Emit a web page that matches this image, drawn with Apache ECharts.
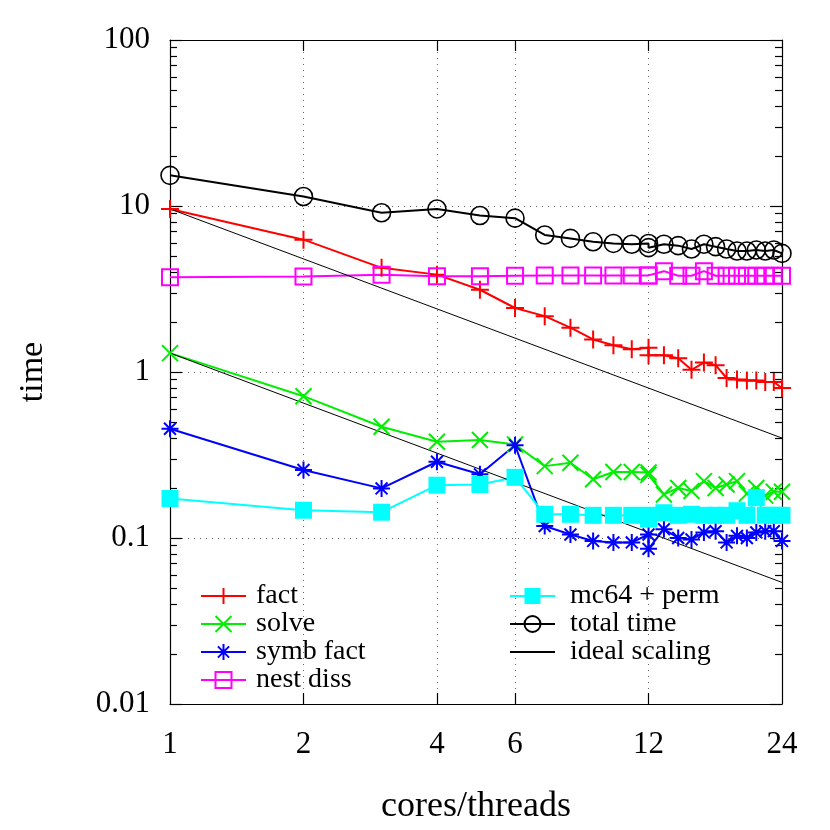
<!DOCTYPE html>
<html>
<head>
<meta charset="utf-8">
<script src="https://cdn.jsdelivr.net/npm/echarts@6/dist/echarts.min.js"></script>
<style>
  html, body { margin: 0; padding: 0; background: #fff; }
  #chart { width: 830px; height: 830px; }
</style>
</head>
<body>
<div id="chart"></div>
<script>
  // cores/threads (12 appears twice in the measurements)
  var threads = [1, 2, 3, 4, 5, 6, 7, 8, 9, 10, 11, 12, 12, 13, 14, 15, 16, 17, 18, 19, 20, 21, 22, 23, 24]

  var fact = [9.6, 6.27, 4.24, 3.86, 3.13, 2.43, 2.17, 1.85, 1.57, 1.45, 1.37, 1.40, 1.26, 1.26, 1.21, 1.03, 1.14, 1.10, 0.92, 0.90, 0.89, 0.89, 0.87, 0.87, 0.80]
  var solve = [1.30, 0.715, 0.468, 0.38, 0.389, 0.366, 0.271, 0.284, 0.226, 0.25, 0.25, 0.248, 0.24, 0.183, 0.2, 0.192, 0.22, 0.2, 0.21, 0.22, 0.185, 0.2, 0.18, 0.19, 0.19]
  var symbFact = [0.455, 0.257, 0.199, 0.288, 0.242, 0.362, 0.118, 0.105, 0.096, 0.094, 0.094, 0.105, 0.086, 0.113, 0.10, 0.098, 0.108, 0.110, 0.094, 0.103, 0.10, 0.108, 0.11, 0.11, 0.096]
  var nestDiss = [3.72, 3.76, 3.85, 3.78, 3.78, 3.8, 3.82, 3.82, 3.82, 3.82, 3.82, 3.82, 3.82, 4.05, 3.8, 3.8, 4.05, 3.8, 3.8, 3.8, 3.8, 3.8, 3.8, 3.8, 3.8]
  var mc64 = [0.173, 0.147, 0.143, 0.208, 0.21, 0.232, 0.139, 0.139, 0.137, 0.137, 0.137, 0.137, 0.13, 0.142, 0.137, 0.139, 0.137, 0.137, 0.137, 0.146, 0.137, 0.175, 0.137, 0.137, 0.137]
  var totalTime = [15.3, 11.4, 9.1, 9.6, 8.77, 8.45, 6.69, 6.38, 6.09, 5.95, 5.88, 5.95, 5.61, 5.88, 5.77, 5.51, 5.88, 5.69, 5.51, 5.36, 5.36, 5.43, 5.36, 5.43, 5.18]

  // ideal scaling lines (end points)
  var idealX = [1, 24]
  var idealFact = [9.6, 0.40]
  var idealSolve = [1.30, 0.054]

  // axis ticks
  var xLabels = [1, 2, 4, 6, 12, 24]
  var xGridTicks = [2, 4, 6, 12]
  var yMinorTicks = []
  ;[0.01, 0.1, 1, 10].forEach(function (d) {
    for (var k = 2; k <= 9; k++) yMinorTicks.push(+(d * k).toPrecision(3))
  })

  var FONT = '"Liberation Serif", "DejaVu Serif", serif'

  var SYM_PLUS = 'path://M0,5L10,5M5,0L5,10'
  var SYM_CROSS = 'path://M0,0L10,10M0,10L10,0'
  var SYM_STAR = 'path://M0,5L10,5M5,0L5,10M1.5,1.5L8.5,8.5M1.5,8.5L8.5,1.5'

  function pairs(xs, ys) {
    return xs.map(function (x, i) { return [x, ys[i]] })
  }

  function lineSeries(name, values, color, symbol, size, filled) {
    return {
      name: name,
      type: 'line',
      data: pairs(threads, values),
      symbol: symbol,
      symbolSize: size,
      lineStyle: { color: color, width: 2 },
      itemStyle: {
        color: filled ? color : 'rgba(0,0,0,0)',
        borderColor: color,
        borderWidth: filled ? 0 : 2
      },
      emphasis: { disabled: true },
      animation: false
    }
  }

  function idealSeries(values) {
    return {
      name: 'ideal scaling', type: 'line', data: pairs(idealX, values),
      symbol: 'none', lineStyle: { color: '#000', width: 1 },
      itemStyle: { color: 'rgba(0,0,0,0)', borderWidth: 0 },
      emphasis: { disabled: true }, animation: false
    }
  }

  var series = [
    lineSeries('fact', fact, '#ff0000', SYM_PLUS, 18, false),
    lineSeries('solve', solve, '#00ee00', SYM_CROSS, 16, false),
    lineSeries('symb fact', symbFact, '#0000ff', SYM_STAR, 17, false),
    lineSeries('nest diss', nestDiss, '#ff00ff', 'rect', 16, false),
    lineSeries('mc64 + perm', mc64, '#00ffff', 'rect', 17, true),
    lineSeries('total time', totalTime, '#000000', 'circle', 18, false),
    idealSeries(idealFact),
    idealSeries(idealSolve)
  ]
  series[5].itemStyle.borderWidth = 1.6

  var gridLine = { show: true, lineStyle: { color: '#666', type: [1, 5], width: 1 } }
  var frame = { show: true, lineStyle: { color: '#000', width: 1.2 } }

  function xAxis(pos, main) {
    return {
      type: 'log', logBase: 2, min: 1, max: 24, position: pos,
      axisLine: frame,
      axisTick: { show: true, inside: true, length: 11, customValues: xGridTicks, lineStyle: { color: '#000', width: 1.2 } },
      axisLabel: main ? { customValues: xLabels, color: '#000', fontFamily: FONT, fontSize: 31, margin: 25 } : { show: false },
      splitLine: main ? gridLine : { show: false },
      minorTick: { show: false },
      name: main ? 'cores/threads' : '',
      nameLocation: 'middle', nameGap: 85,
      nameTextStyle: { color: '#000', fontFamily: FONT, fontSize: 36 }
    }
  }

  // major (decade) ticks carry labels, a second axis on the same side carries the minor ticks
  function yAxis(pos, main, minor) {
    var ax = {
      type: 'log', logBase: 10, min: 0.01, max: 100, position: pos,
      axisLine: minor ? { show: false } : frame,
      axisTick: minor
        ? { show: true, inside: true, length: 7, customValues: yMinorTicks, lineStyle: { color: '#000', width: 1.2 } }
        : { show: true, inside: true, length: 12, lineStyle: { color: '#000', width: 1.2 } },
      axisLabel: main ? { color: '#000', fontFamily: FONT, fontSize: 31, margin: 20 } : { show: false },
      splitLine: main ? gridLine : { show: false }
    }
    if (main) {
      ax.name = 'time'
      ax.nameLocation = 'middle'
      ax.nameGap = 120
      ax.nameRotate = 90
      ax.nameTextStyle = { color: '#000', fontFamily: FONT, fontSize: 34 }
    }
    return ax
  }

  var option = {
    backgroundColor: '#fff',
    animation: false,
    grid: { left: 170, right: 48, top: 40, bottom: 125 },
    xAxis: [xAxis('bottom', true), xAxis('top', false)],
    yAxis: [yAxis('left', true, false), yAxis('left', false, true), yAxis('right', false, false), yAxis('right', false, true)],
    legend: [
      {
        data: ['fact', 'solve', 'symb fact', 'nest diss'],
        orient: 'vertical', left: 200, top: 582, padding: 0,
        itemWidth: 45, itemHeight: 20, itemGap: 0,
        textStyle: { color: '#000', fontFamily: FONT, fontSize: 28, padding: [0, 0, 0, 5] },
        selectedMode: false
      },
      {
        data: ['mc64 + perm', 'total time', 'ideal scaling'],
        orient: 'vertical', left: 509, top: 582, padding: 0,
        itemWidth: 45, itemHeight: 20, itemGap: 0,
        textStyle: { color: '#000', fontFamily: FONT, fontSize: 28, padding: [0, 0, 0, 10] },
        selectedMode: false
      }
    ],
    series: series
  }

  var chart = echarts.init(document.getElementById('chart'), null, { renderer: 'canvas' })
  chart.setOption(option)
</script>
</body>
</html>
